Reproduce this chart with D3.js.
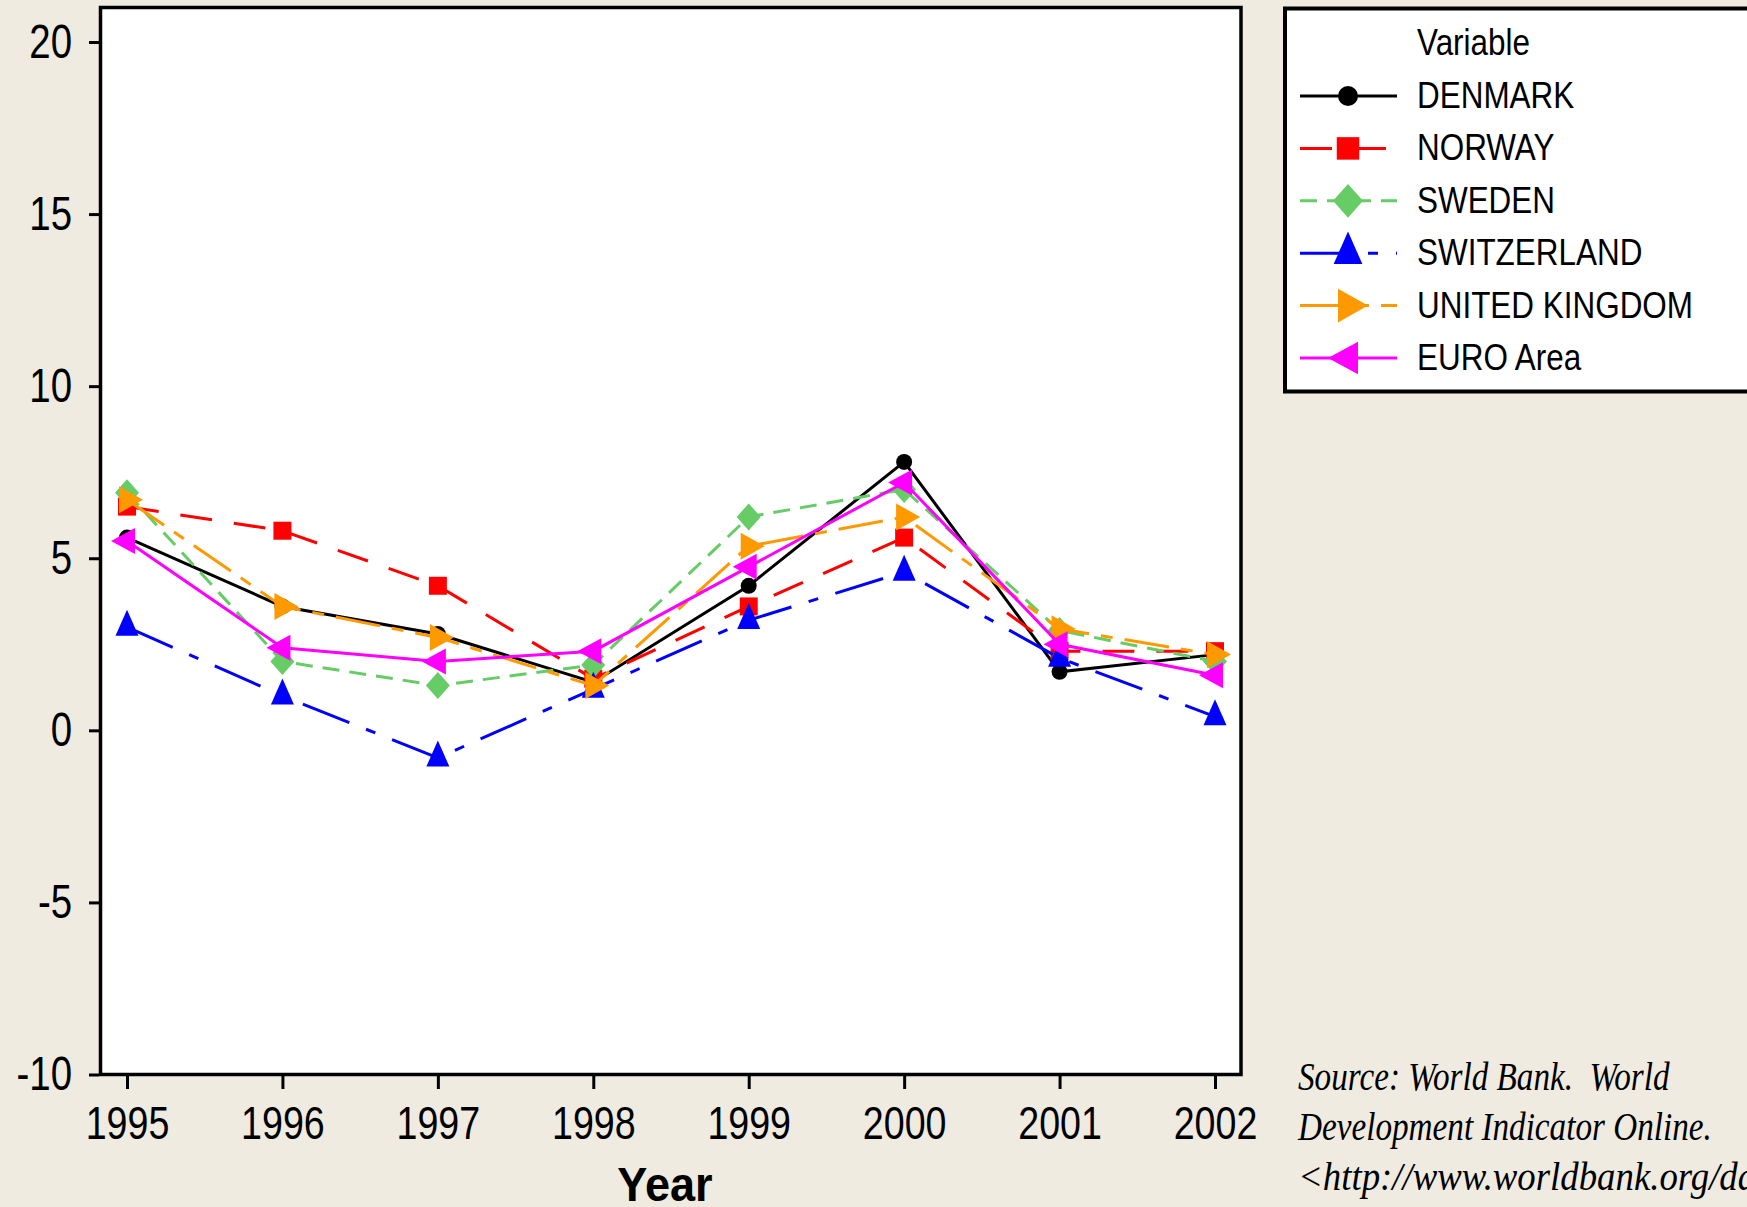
<!DOCTYPE html>
<html>
<head>
<meta charset="utf-8">
<script src="https://cdn.jsdelivr.net/npm/d3@7"></script>
<style>
  body { margin: 0; background: #efebe1; }
  svg { display: block; }
</style>
</head>
<body>
<div id="chart"></div>
<script>
// data
const years = [1995, 1996, 1997, 1998, 1999, 2000, 2001, 2002];
const denmark = [5.6, 3.6, 2.8, 1.4, 4.2, 7.8, 1.7, 2.2];
const norway = [6.5, 5.8, 4.2, 1.5, 3.6, 5.6, 2.3, 2.3];
const sweden = [6.9, 2.0, 1.3, 1.9, 6.2, 7.0, 2.9, 2.0];
const switzerland = [3.0, 1.0, -0.8, 1.2, 3.2, 4.6, 2.1, 0.4];
const unitedKingdom = [6.7, 3.6, 2.7, 1.3, 5.35, 6.2, 2.95, 2.2];
const euroArea = [5.5, 2.4, 2.0, 2.3, 4.75, 7.2, 2.5, 1.6];
const seriesNames = ['DENMARK', 'NORWAY', 'SWEDEN', 'SWITZERLAND', 'UNITED KINGDOM', 'EURO Area'];
const yTicks = [-10, -5, 0, 5, 10, 15, 20];
const legendTitle = 'Variable';
const xTitle = 'Year';
const sourceLines = [
  'Source: World Bank.  World',
  'Development Indicator Online.',
  '<http://www.worldbank.org/data>'
];

const width = 1747, height = 1207;
const bg = '#efebe1';

// styles per series
const styles = [
  {color: '#000000', dash: null, marker: 'circle'},
  {color: '#ff0000', dash: '32,22', marker: 'square'},
  {color: '#66cc66', dash: '17,10', marker: 'diamond'},
  {color: '#0000ff', dash: '50,18,10,18', marker: 'triUp'},
  {color: '#ff9900', dash: '45,12,12,12', marker: 'triRight'},
  {color: '#ff00ff', dash: null, marker: 'triLeft'}
];
const values = [denmark, norway, sweden, switzerland, unitedKingdom, euroArea];
const series = seriesNames.map((name, i) => Object.assign({name: name, values: values[i]}, styles[i]));

function markerPath(kind, k){
  switch(kind){
    case 'circle': {
      const r = 8*k;
      return `M${-r},0A${r},${r} 0 1,0 ${r},0A${r},${r} 0 1,0 ${-r},0Z`;
    }
    case 'square': {
      const h = 9*k;
      return `M${-h},${-h}H${h}V${h}H${-h}Z`;
    }
    case 'diamond':
      return `M0,${-13.5*k}L${12*k},0L0,${13.5*k}L${-12*k},0Z`;
    case 'triUp':
      return `M0,${-17.3*k}L${11.5*k},${8.7*k}L${-11.5*k},${8.7*k}Z`;
    case 'triRight':
      return `M${16*k},0L${-8*k},${-13.5*k}L${-8*k},${13.5*k}Z`;
    case 'triLeft':
      return `M${-16*k},0L${8*k},${-13*k}L${8*k},${13*k}Z`;
  }
}

const svg = d3.select('#chart').append('svg')
  .attr('width', width)
  .attr('height', height);

svg.append('rect').attr('width', width).attr('height', height).attr('fill', bg);

const x = d3.scaleLinear().domain([1995, 2002]).range([127, 1215]);
const y = d3.scaleLinear().domain([-10, 20]).range([1074.5, 42]);

// plot frame
svg.append('rect')
  .attr('x', 100.5).attr('y', 7.5)
  .attr('width', 1140.5).attr('height', 1067)
  .attr('fill', '#fff')
  .attr('stroke', '#000')
  .attr('stroke-width', 3.5);

// y axis
const yAxis = svg.append('g')
  .attr('transform', 'translate(99,0)')
  .call(d3.axisLeft(y).tickValues(yTicks).tickSize(10).tickFormat(d => String(d)));
yAxis.select('.domain').remove();
yAxis.selectAll('line').attr('stroke', '#000').attr('stroke-width', 3);
yAxis.selectAll('text')
  .attr('font-family', 'Liberation Sans, Arial, sans-serif')
  .attr('font-size', 48)
  .attr('fill', '#000')
  .attr('x', -27/0.8)
  .attr('transform', 'scale(0.8,1)');

// x axis
const xAxis = svg.append('g')
  .attr('transform', 'translate(0,1075)')
  .call(d3.axisBottom(x).tickValues(years).tickSize(14).tickFormat(d => String(d)));
xAxis.select('.domain').remove();
xAxis.selectAll('line').attr('stroke', '#000').attr('stroke-width', 3);
xAxis.selectAll('text')
  .attr('font-family', 'Liberation Sans, Arial, sans-serif')
  .attr('font-size', 47)
  .attr('fill', '#000')
  .attr('y', 64)
  .attr('dy', 0)
  .attr('transform', 'scale(0.8,1)');

svg.append('text')
  .attr('transform', 'translate(665,1201) scale(0.92,1)')
  .attr('text-anchor', 'middle')
  .attr('font-family', 'Liberation Sans, Arial, sans-serif')
  .attr('font-weight', 'bold')
  .attr('font-size', 49)
  .text(xTitle);

// lines + markers
const line = d3.line().x((d, i) => x(years[i])).y(d => y(d));
series.forEach(s => {
  svg.append('path')
    .datum(s.values)
    .attr('d', line)
    .attr('fill', 'none')
    .attr('stroke', s.color)
    .attr('stroke-width', 3)
    .attr('stroke-dasharray', s.dash);
  svg.append('g').selectAll('path')
    .data(s.values)
    .join('path')
    .attr('transform', (d, i) => `translate(${x(years[i])},${y(d)})`)
    .attr('d', markerPath(s.marker, 1))
    .attr('fill', s.color);
});

// legend
const legend = svg.append('g');
legend.append('rect')
  .attr('x', 1285).attr('y', 8.5)
  .attr('width', 520).attr('height', 383)
  .attr('fill', '#fff')
  .attr('stroke', '#000')
  .attr('stroke-width', 4);
legend.append('text')
  .attr('transform', 'translate(1417,55) scale(0.85,1)')
  .attr('font-family', 'Liberation Sans, Arial, sans-serif')
  .attr('font-size', 37)
  .text(legendTitle);
series.forEach((s, i) => {
  const cy = 96 + i*52.4;
  legend.append('line')
    .attr('x1', 1300).attr('x2', 1397)
    .attr('y1', cy).attr('y2', cy)
    .attr('stroke', s.color)
    .attr('stroke-width', 3)
    .attr('stroke-dasharray', s.dash);
  legend.append('path')
    .attr('transform', `translate(1348,${cy})`)
    .attr('d', markerPath(s.marker, 1.25))
    .attr('fill', s.color);
  legend.append('text')
    .attr('transform', `translate(1417,${cy + 12}) scale(0.85,1)`)
    .attr('font-family', 'Liberation Sans, Arial, sans-serif')
    .attr('font-size', 37)
    .text(s.name);
});

// source note (last line runs off the right edge, as in the original)
sourceLines.forEach((t, i) => {
  svg.append('text')
    .attr('transform', `translate(1298,${[1090, 1140, 1190][i]}) scale(${i === 2 ? 0.92 : 0.83},1)`)
    .attr('font-family', 'Liberation Serif, Times New Roman, serif')
    .attr('font-style', 'italic')
    .attr('font-size', 40)
    .style('white-space', 'pre')
    .text(t);
});
</script>
</body>
</html>
